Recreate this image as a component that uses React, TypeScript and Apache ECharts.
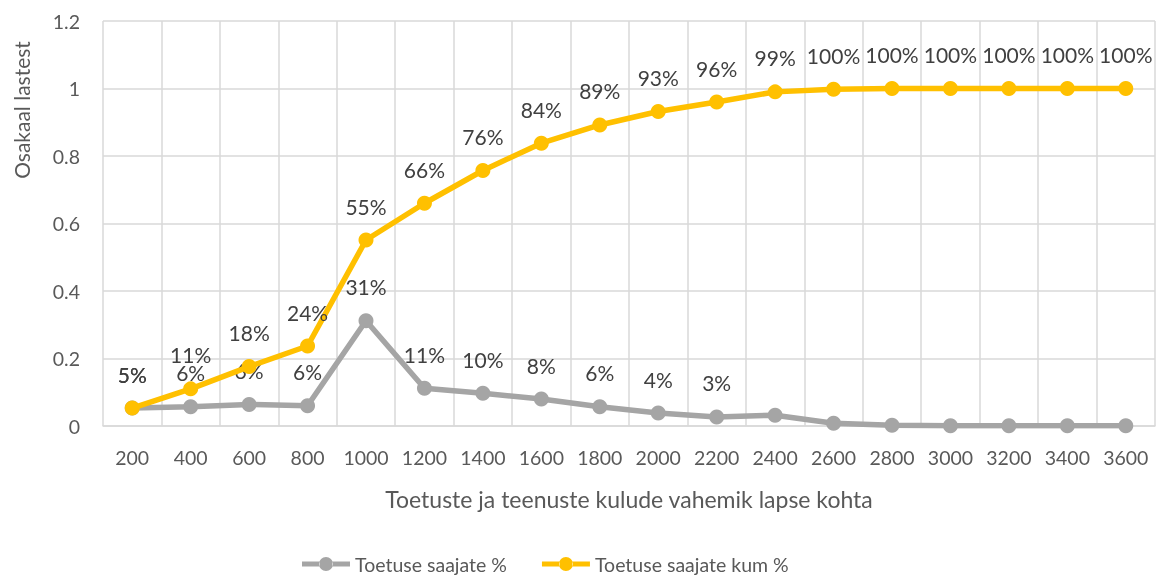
import React, { useEffect, useRef } from "react";
import * as echarts from "echarts";

const categories = ["200", "400", "600", "800", "1000", "1200", "1400", "1600", "1800", "2000", "2200", "2400", "2600", "2800", "3000", "3200", "3400", "3600"];
const recipientsPct = [0.053, 0.057, 0.064, 0.06, 0.312, 0.112, 0.097, 0.08, 0.057, 0.0385, 0.027, 0.032, 0.008, 0.002, 0.001, 0.001, 0.001, 0.001];
const cumulativePct = [0.053, 0.11, 0.176, 0.237, 0.551, 0.66, 0.757, 0.838, 0.892, 0.932, 0.96, 0.99, 0.998, 1, 1, 1, 1, 1];
const recipientsLabelCount = 11;
const yTicks = { min: 0, max: 1.2, interval: 0.2 };
const seriesNames = ["Toetuse saajate %", "Toetuse saajate kum %"];
const xTitle = "Toetuste ja teenuste kulude vahemik lapse kohta";
const yTitle = "Osakaal lastest";

const FONT = "Lato, 'Liberation Sans', sans-serif";
const pct = (v: number) => Math.round(v * 100) + "%";
const LEGEND_ICON =
  "path://M0,4.5 L17.6,4.5 L17.6,9.5 L0,9.5 Z M30.4,4.5 L48,4.5 L48,9.5 L30.4,9.5 Z M17,7 A7,7 0 1,0 31,7 A7,7 0 1,0 17,7 Z";

export default function App() {
  const ref = useRef<HTMLDivElement>(null);
  useEffect(() => {
    if (!ref.current) return;
    const chart = echarts.init(ref.current, undefined, { renderer: "svg" });
    const labelStyle = {
      show: true,
      position: "top" as const,
      distance: 16,
      color: "#404040",
      fontSize: 21,
      fontFamily: FONT,
      formatter: (p: any) => pct(p.value),
    };
    chart.setOption({
      animation: false,
      textStyle: { fontFamily: FONT },
      grid: { left: 103, right: 1, top: 21, bottom: 152, containLabel: false },
      legend: {
        top: 549,
        left: 297,
        padding: 5,
        icon: LEGEND_ICON,
        itemWidth: 48,
        itemHeight: 14,
        itemGap: 35,
        textStyle: { fontSize: 19.5, color: "#595959", fontFamily: FONT, lineHeight: 20 },
        data: seriesNames,
      },
      xAxis: {
        type: "category",
        data: categories,
        boundaryGap: true,
        name: xTitle,
        nameLocation: "middle",
        nameGap: 61,
        nameTextStyle: { fontSize: 23, color: "#595959", fontFamily: FONT },
        axisLine: { lineStyle: { color: "#D9D9D9", width: 1.5 } },
        axisTick: { show: false },
        axisLabel: { color: "#595959", fontSize: 19.5, margin: 21, fontFamily: FONT, interval: 0 },
        splitLine: { show: true, interval: 0, lineStyle: { color: "#D9D9D9", width: 1.5 } },
      },
      yAxis: {
        type: "value",
        min: yTicks.min,
        max: yTicks.max,
        interval: yTicks.interval,
        axisLine: { show: false },
        axisTick: { show: false },
        axisLabel: { color: "#595959", fontSize: 19.5, margin: 23, fontFamily: FONT, formatter: (v: number) => String(Math.round(v * 10) / 10) },
        splitLine: { lineStyle: { color: "#D9D9D9", width: 1.5 } },
      },
      graphic: [
        {
          type: "text",
          x: 21,
          y: 110,
          rotation: Math.PI / 2,
          style: { text: yTitle, fontSize: 21, fill: "#595959", fontFamily: FONT, align: "center", verticalAlign: "middle" },
        },
      ],
      series: [
        {
          name: seriesNames[0],
          type: "line",
          data: recipientsPct.map((v, i) => ({ value: v, label: { show: i < recipientsLabelCount } })),
          symbol: "circle",
          symbolSize: 15,
          itemStyle: { color: "#A5A5A5" },
          lineStyle: { color: "#A5A5A5", width: 5.5 },
          label: labelStyle,
          z: 2,
        },
        {
          name: seriesNames[1],
          type: "line",
          data: cumulativePct,
          symbol: "circle",
          symbolSize: 15,
          itemStyle: { color: "#FFC000" },
          lineStyle: { color: "#FFC000", width: 5.5 },
          label: labelStyle,
          z: 3,
        },
      ],
    });
    return () => chart.dispose();
  }, []);
  return <div ref={ref} style={{ position: "fixed", left: 0, top: 0, width: 1156, height: 578 }} />;
}
